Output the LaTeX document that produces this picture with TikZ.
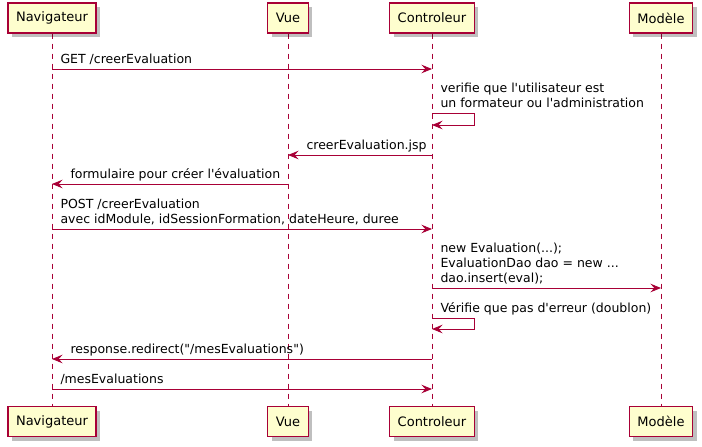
\documentclass[tikz,border=0pt]{standalone}
\usepackage{fontspec}
\newfontfamily\umlfont{DejaVu Sans}
\usetikzlibrary{arrows.meta,shadows,positioning,backgrounds}
\definecolor{umlred}{HTML}{A80036}
\definecolor{umlfill}{HTML}{FEFECE}
\tikzset{%
actor/.style={draw=umlred, line width=0.9pt, fill=umlfill, minimum height=22.5pt, inner xsep=6pt,
  font=\umlfont\fontsize{9.75pt}{11pt}\selectfont,
  drop shadow={shadow xshift=3pt, shadow yshift=-3pt, opacity=0.25, fill=black}},
lifeline/.style={draw=umlred, line width=0.75pt, dash pattern=on 3.75pt off 3.75pt},
msg/.style={draw=umlred, line width=0.75pt, -{Stealth[length=8pt, width=6.5pt, inset=3pt]}},
lbl/.style={inner sep=0pt, text depth=0pt, align=left, anchor=south west,
  font=\umlfont\fontsize{9.375pt}{11.25pt}\selectfont}
}

\begin{document}
\begin{tikzpicture}[x=0.75pt, y=-0.75pt]
			\useasboundingbox (0,0) rectangle (702,446);
			\node[actor] (navT) at (52,18) {Navigateur};
			\node[actor] (vueT) at (288,18) {Vue};
			\node[actor] (ctrlT) at (432,18) {Controleur};
			\node[actor] (modT) at (661,18) {Modèle};
			\node[actor] (navB) at (52,421.5) {Navigateur};
			\node[actor] (vueB) at (288,421.5) {Vue};
			\node[actor] (ctrlB) at (432,421.5) {Controleur};
			\node[actor] (modB) at (661,421.5) {Modèle};
			% lifelines behind the boxes
			\begin{scope}[on background layer]
				\foreach \p in {nav, vue, ctrl, mod}
					\draw[lifeline] (\p T) -- (\p B);
			\end{scope}
			% messages
			\draw[msg] (navT |- 0,69) -- node[lbl, pos=0, xshift=6pt, yshift=4pt] {GET /creerEvaluation} (ctrlT |- 0,69);
			\draw[msg] (ctrlT |- 0,113) node[lbl, xshift=6pt, yshift=4pt] {verifie que l'utilisateur est\\un formateur ou l'administration}
				-- ++(42,0) |- (ctrlT |- 0,125);
			\draw[msg] (ctrlT |- 0,155) -- node[lbl, pos=1, xshift=13.5pt, yshift=4pt] {creerEvaluation.jsp} (vueT |- 0,155);
			\draw[msg] (vueT |- 0,184) -- node[lbl, pos=1, xshift=13.5pt, yshift=4pt] {formulaire pour créer l'évaluation} (navT |- 0,184);
			\draw[msg] (navT |- 0,229) -- node[lbl, pos=0, xshift=6pt, yshift=4pt] {POST /creerEvaluation\\avec idModule, idSessionFormation, dateHeure, duree} (ctrlT |- 0,229);
			\draw[msg] (ctrlT |- 0,288) -- node[lbl, pos=0, xshift=6pt, yshift=4pt] {new Evaluation(...);\\EvaluationDao dao = new ...\\dao.insert(eval);} (modT |- 0,288);
			\draw[msg] (ctrlT |- 0,318) node[lbl, xshift=6pt, yshift=4pt] {Vérifie que pas d'erreur (doublon)}
				-- ++(42,0) |- (ctrlT |- 0,329);
			\draw[msg] (ctrlT |- 0,359) -- node[lbl, pos=1, xshift=13.5pt, yshift=4pt] {response.redirect("/mesEvaluations")} (navT |- 0,359);
			\draw[msg] (navT |- 0,389) -- node[lbl, pos=0, xshift=6pt, yshift=4pt] {/mesEvaluations} (ctrlT |- 0,389);
		\end{tikzpicture}
\end{document}
